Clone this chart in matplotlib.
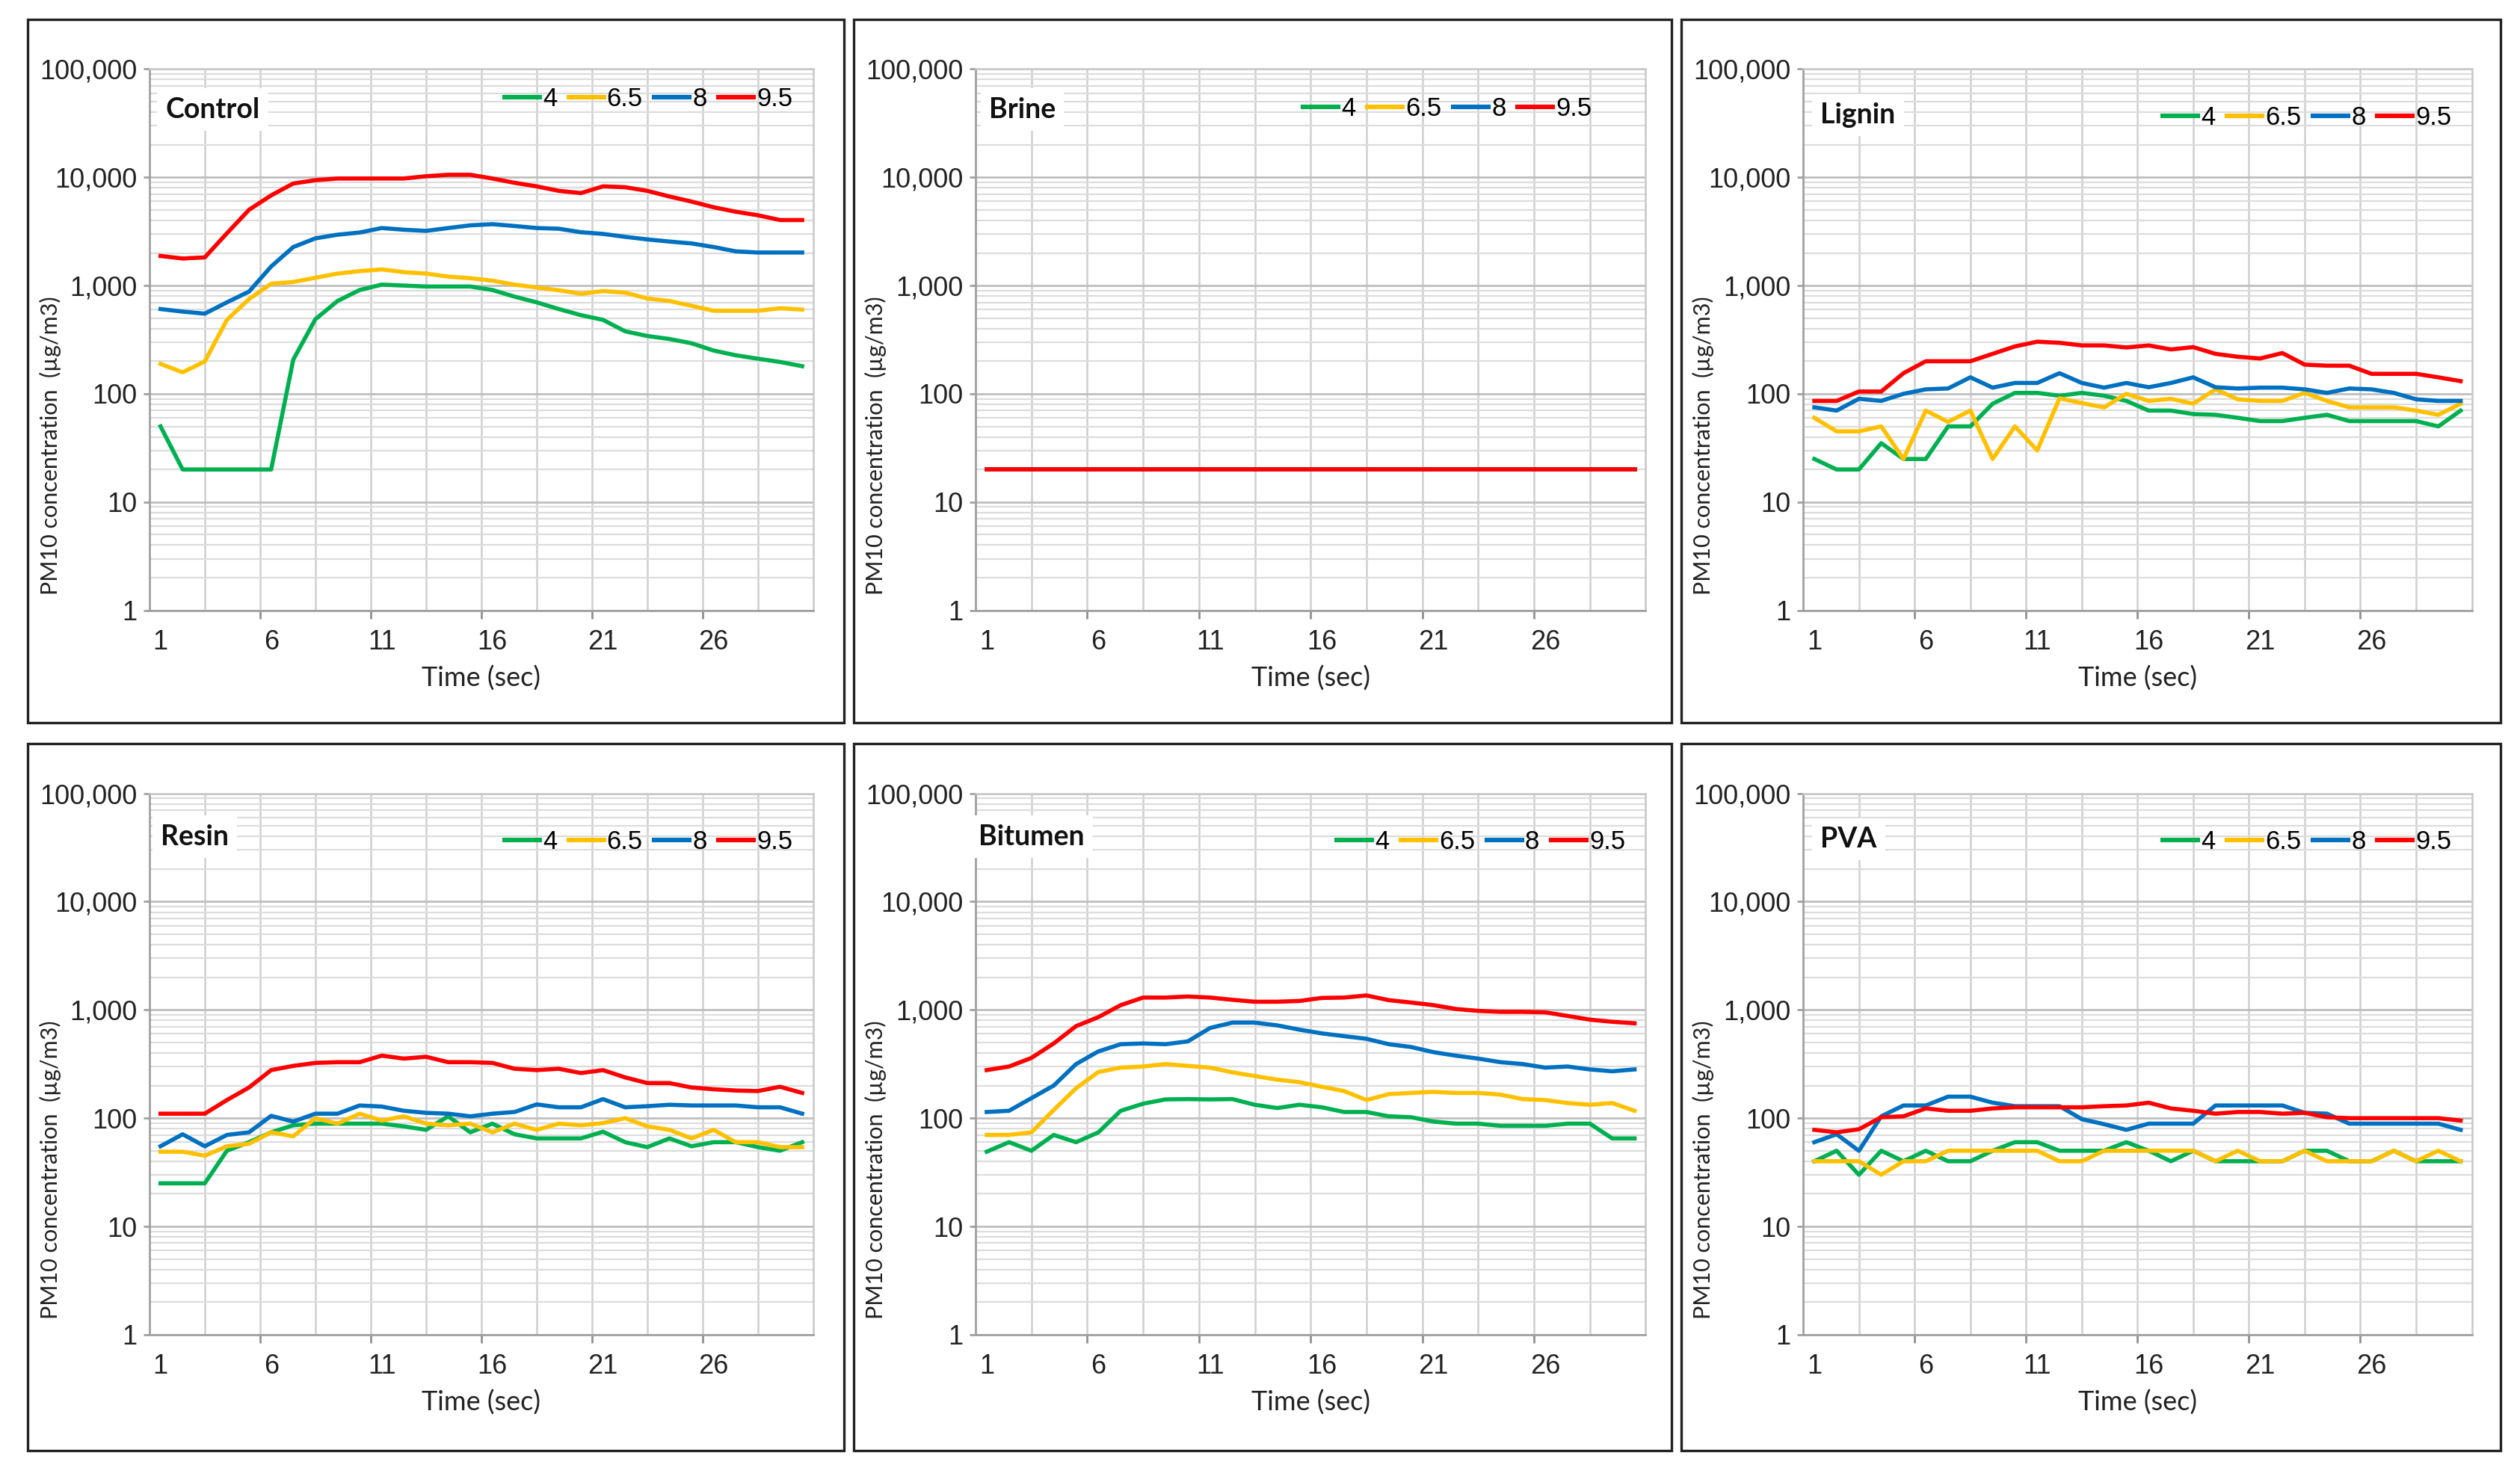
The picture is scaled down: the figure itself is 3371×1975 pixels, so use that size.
import matplotlib
matplotlib.use("Agg")
import matplotlib.pyplot as plt
from matplotlib.patches import Rectangle
from matplotlib.ticker import FixedLocator, FuncFormatter, NullFormatter
import numpy as np

time_sec = list(range(1, 31))
series_labels = ["4", "6.5", "8", "9.5"]
series_colors = ["#00B050", "#FFC000", "#0070C0", "#FF0000"]
panel_names = ["Control", "Brine", "Lignin", "Resin", "Bitumen", "PVA"]

control_4 = [50, 20, 20, 20, 20, 20, 207, 489, 720, 910, 1020, 1000, 980, 980, 980, 910, 790, 700, 607, 533, 482, 378, 342, 321, 293, 251, 227, 211, 197, 180]
control_65 = [189, 158, 199, 482, 750, 1040, 1080, 1180, 1290, 1360, 1410, 1330, 1290, 1210, 1170, 1110, 1020, 960, 905, 840, 890, 860, 760, 720, 650, 585, 585, 585, 617, 600]
control_8 = [607, 575, 550, 700, 880, 1500, 2270, 2730, 2950, 3090, 3400, 3280, 3200, 3400, 3600, 3690, 3550, 3400, 3350, 3110, 3000, 2820, 2670, 2550, 2450, 2270, 2070, 2020, 2020, 2020]
control_95 = [1877, 1778, 1820, 3040, 5012, 6810, 8770, 9400, 9750, 9750, 9750, 9750, 10230, 10550, 10550, 9750, 8900, 8250, 7500, 7150, 8250, 8100, 7500, 6650, 5970, 5290, 4810, 4460, 4030, 4030]

brine_4 = [20] * 30
brine_65 = [20] * 30
brine_8 = [20] * 30
brine_95 = [20] * 30

lignin_4 = [25, 20, 20, 35, 25, 25, 50, 50, 81, 102, 102, 96, 102, 96, 86, 70, 70, 65, 64, 60, 56, 56, 60, 64, 56, 56, 56, 56, 50, 70]
lignin_65 = [60, 45, 45, 50, 25, 70, 55, 70, 25, 50, 30, 91, 82, 75, 100, 86, 90, 81, 110, 89, 86, 86, 102, 86, 75, 75, 75, 70, 64, 81]
lignin_8 = [75, 70, 90, 86, 100, 110, 112, 142, 114, 126, 126, 155, 126, 114, 126, 115, 126, 142, 115, 112, 114, 114, 110, 102, 112, 110, 102, 89, 86, 86]
lignin_95 = [86, 86, 105, 105, 155, 200, 200, 200, 234, 274, 303, 296, 280, 280, 268, 280, 257, 270, 234, 220, 212, 238, 186, 182, 182, 153, 153, 153, 142, 131]

resin_4 = [25, 25, 25, 50, 60, 74, 86, 89, 89, 89, 89, 84, 78, 104, 74, 89, 71, 65, 65, 65, 75, 60, 54, 65, 55, 60, 60, 54, 50, 60]
resin_65 = [49, 49, 45, 55, 58, 74, 68, 100, 89, 110, 95, 104, 89, 86, 89, 74, 89, 78, 89, 86, 90, 100, 84, 78, 65, 78, 60, 60, 54, 54]
resin_8 = [55, 71, 55, 70, 74, 105, 93, 110, 110, 131, 128, 117, 112, 110, 104, 110, 114, 134, 126, 126, 150, 126, 129, 133, 131, 131, 131, 126, 126, 110]
resin_95 = [110, 110, 110, 147, 192, 278, 304, 324, 329, 329, 378, 355, 369, 329, 329, 324, 286, 278, 286, 261, 278, 238, 211, 211, 192, 185, 180, 178, 195, 171]

bitumen_4 = [49, 60, 50, 70, 60, 74, 117, 136, 149, 150, 149, 150, 133, 124, 133, 126, 114, 114, 104, 102, 93, 89, 89, 85, 85, 85, 89, 89, 65, 65]
bitumen_65 = [70, 70, 74, 119, 189, 267, 293, 300, 316, 304, 293, 265, 245, 227, 215, 195, 178, 147, 167, 171, 175, 171, 171, 165, 150, 147, 138, 133, 138, 117]
bitumen_8 = [114, 117, 153, 200, 316, 414, 482, 490, 482, 512, 681, 763, 763, 720, 657, 607, 572, 541, 482, 454, 407, 378, 355, 329, 316, 293, 300, 282, 271, 282]
bitumen_95 = [278, 300, 360, 490, 708, 858, 1107, 1300, 1300, 1330, 1300, 1240, 1190, 1190, 1210, 1290, 1300, 1360, 1230, 1170, 1107, 1020, 980, 960, 960, 950, 880, 813, 777, 752]

pva_4 = [40, 50, 30, 50, 40, 50, 40, 40, 50, 60, 60, 50, 50, 50, 60, 50, 40, 50, 40, 40, 40, 40, 50, 50, 40, 40, 50, 40, 40, 40]
pva_65 = [40, 40, 40, 30, 40, 40, 50, 50, 50, 50, 50, 40, 40, 50, 50, 50, 50, 50, 40, 50, 40, 40, 50, 40, 40, 40, 50, 40, 50, 40]
pva_8 = [60, 71, 50, 104, 131, 131, 158, 158, 139, 129, 129, 129, 98, 88, 78, 89, 89, 89, 131, 131, 131, 131, 112, 110, 89, 89, 89, 89, 89, 78]
pva_95 = [78, 74, 79, 102, 104, 123, 117, 117, 123, 126, 126, 126, 126, 129, 131, 139, 123, 117, 110, 114, 114, 110, 112, 102, 100, 100, 100, 100, 100, 95]

panel_data = [
    [control_4, control_65, control_8, control_95],
    [brine_4, brine_65, brine_8, brine_95],
    [lignin_4, lignin_65, lignin_8, lignin_95],
    [resin_4, resin_65, resin_8, resin_95],
    [bitumen_4, bitumen_65, bitumen_8, bitumen_95],
    [pva_4, pva_65, pva_8, pva_95],
]

x_tick_labels = ["1", "6", "11", "16", "21", "26"]
y_ticks = [1, 10, 100, 1000, 10000, 100000]

W, H = 1568.0, 919.0
fig = plt.figure(figsize=(3371 / 200, 1975 / 200), dpi=200)

frame_cols = [(17, 525), (531, 1040), (1046, 1556)]
frame_rows = [(12, 450), (463, 903)]
axes_cols = [(93, 506), (607, 1024), (1122, 1538)]
axes_rows = [(43, 380), (494, 831)]
title_pos = [(0.024, 0.925), (0.02, 0.925), (0.026, 0.915), (0.017, 0.92), (0.005, 0.92), (0.026, 0.915)]
legend_pos = [(0.985, 0.945), (0.935, 0.927), (0.985, 0.91), (0.985, 0.91), (0.985, 0.91), (0.985, 0.91)]

tick_font = "Liberation Sans"
label_font = "Lato"

for i, name in enumerate(panel_names):
    r, c = divmod(i, 3)
    fx0, fx1 = frame_cols[c]
    fy0, fy1 = frame_rows[r]
    fig.patches.append(Rectangle((fx0 / W, 1 - fy1 / H), (fx1 - fx0) / W, (fy1 - fy0) / H,
                                 transform=fig.transFigure, fill=False, edgecolor="#222222", linewidth=1.2))
    ax0, ax1 = axes_cols[c]
    ay0, ay1 = axes_rows[r]
    ax = fig.add_axes([ax0 / W, 1 - ay1 / H, (ax1 - ax0) / W, (ay1 - ay0) / H])

    for vals, lab, col in zip(panel_data[i], series_labels, series_colors):
        ax.plot(time_sec, vals, color=col, lw=2.0, label=lab, solid_joinstyle="round", zorder=3)

    ax.set_yscale("log")
    ax.set_ylim(1, 100000)
    ax.set_xlim(0.5, 30.5)

    ax.yaxis.set_major_locator(FixedLocator(y_ticks))
    ax.yaxis.set_major_formatter(FuncFormatter(lambda v, p: f"{int(round(v)):,}"))
    minor_y = [m * 10 ** e for e in range(0, 5) for m in range(2, 10)]
    ax.yaxis.set_minor_locator(FixedLocator(minor_y))
    ax.yaxis.set_minor_formatter(NullFormatter())

    ax.xaxis.set_major_locator(FixedLocator([1, 6, 11, 16, 21, 26]))
    ax.set_xticklabels(x_tick_labels)
    minor_x = [0.5 + 2.5 * k for k in range(1, 12)]
    ax.xaxis.set_minor_locator(FixedLocator(minor_x))

    ax.grid(True, which="major", axis="y", color="#BEBEBE", lw=1.0, zorder=0)
    ax.grid(True, which="minor", axis="y", color="#DCDCDC", lw=0.8, zorder=0)
    ax.grid(True, which="minor", axis="x", color="#CFCFCF", lw=0.9, zorder=0)

    ax.tick_params(axis="x", which="major", length=0, pad=9, labelsize=13)
    ax.tick_params(axis="x", which="minor", length=0)
    ax.tick_params(axis="y", which="major", length=3, width=1, color="#A0A0A0", pad=3, labelsize=13)
    ax.tick_params(axis="y", which="minor", length=0)
    for lab in ax.get_xticklabels() + ax.get_yticklabels():
        lab.set_fontfamily(tick_font)
        lab.set_color("#222222")

    sec = ax.secondary_xaxis("bottom")
    sec.xaxis.set_major_locator(FixedLocator([5.5, 10.5, 15.5, 20.5, 25.5]))
    sec.xaxis.set_major_formatter(NullFormatter())
    sec.tick_params(length=4, width=1, color="#909090")
    sec.spines["bottom"].set_visible(False)

    for side in ["top", "right"]:
        ax.spines[side].set_color("#C8C8C8")
        ax.spines[side].set_linewidth(0.9)
    for side in ["left", "bottom"]:
        ax.spines[side].set_color("#A0A0A0")
        ax.spines[side].set_linewidth(1.0)

    ax.set_xlabel("Time (sec)", fontfamily=label_font, fontsize=13, color="#222222", labelpad=5)
    ax.set_ylabel("PM10 concentration  (\u00b5g/m3)", fontfamily=label_font, fontsize=11, color="#222222")
    ax.yaxis.set_label_coords(-0.133, 0.305)

    tx, ty = title_pos[i]
    ax.text(tx, ty, name, transform=ax.transAxes, ha="left", va="center", fontfamily=label_font,
            fontweight="bold", fontsize=13.5, color="#111111", zorder=5,
            bbox=dict(boxstyle="square,pad=0.3", facecolor="white", edgecolor="none"))

    lx, ly = legend_pos[i]
    leg = ax.legend(loc="center right", bbox_to_anchor=(lx, ly), ncol=4, frameon=False,
                    handlelength=1.35, handletextpad=0.12, columnspacing=0.45, borderaxespad=0,
                    prop={"family": tick_font, "size": 12.5})
    for line in leg.get_lines():
        line.set_linewidth(2.2)

fig.savefig("out.png", dpi=200, facecolor="white")
